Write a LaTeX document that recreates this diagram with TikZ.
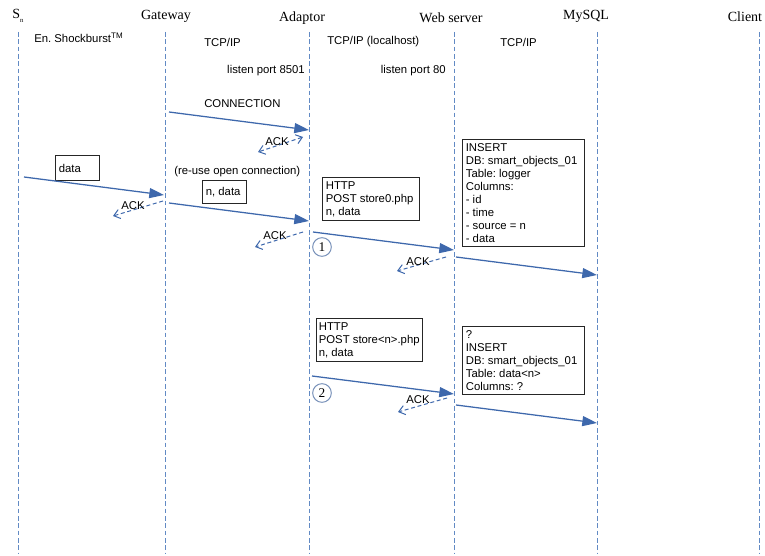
\documentclass[tikz,border=0pt]{standalone}
\usepackage{fontspec}
\setmainfont{Liberation Serif}
\setsansfont{Liberation Sans}
\usetikzlibrary{arrows.meta}
\frenchspacing
\definecolor{msgblue}{RGB}{62,104,172}
\definecolor{lifeblue}{RGB}{98,138,196}
\definecolor{ringblue}{RGB}{120,145,185}
\tikzset{
  msg/.style={draw=msgblue, line width=0.95pt, -{Triangle[length=11pt,width=7.5pt]}},
  ack/.style={draw=msgblue, line width=0.75pt, dash pattern=on 3pt off 2pt, -{Straight Barb[length=4.5pt,width=7pt]}},
  life/.style={draw=lifeblue, line width=0.75pt, dash pattern=on 3.5pt off 2pt},
  head/.style={font=\fontsize{10.5}{12}\selectfont, inner sep=0.75pt},
  lbl/.style={font=\sffamily\fontsize{8.5}{10}\selectfont, inner sep=0.75pt},
  msgbox/.style={draw=black!85, line width=0.75pt, anchor=north west, align=flush left,
    font=\sffamily\fontsize{8.5}{9.8}\selectfont, inner ysep=3pt, inner xsep=2.5pt},
  ring/.style={circle, draw=ringblue, line width=0.75pt, minimum size=14pt, inner sep=0pt,
    font=\fontsize{10}{12}\selectfont}
}
\begin{document}
\begin{tikzpicture}[x=0.75pt,y=-0.75pt]
\useasboundingbox (0,0) rectangle (765,556);

% lifelines
\foreach \name/\xx in {sn/18,gw/165,ad/309,ws/454,db/597,cl/759}{
  \coordinate (\name-top) at (\xx,32);
  \coordinate (\name-bot) at (\xx,554);
  \draw[life] (\name-top) -- (\name-bot);
}

% headings
\node[head] (hsn) at (18,16) {S\raisebox{-0.6ex}{\fontsize{5}{6}\selectfont n}};
\node[head] (hgw) at (166,16) {Gateway};
\node[head] (had) at (302,18) {Adaptor};
\node[head] (hws) at (451,18) {Web server};
\node[head] (hdb) at (586,16) {MySQL};
\node[head] (hcl) at (745,17) {Client};

% protocol labels
\node[lbl, anchor=west] (pshock) at (33,38) {En. Shockburst\textsuperscript{\fontsize{6}{7}\selectfont TM}};
\node[lbl, anchor=west] (ptcp) at (203,42) {TCP/IP};
\node[lbl, anchor=east] (port1) at (306,71) {listen port 8501};
\node[lbl, anchor=west] (plocal) at (326,42) {TCP/IP (localhost)};
\node[lbl, anchor=east] (port2) at (447,71) {listen port 80};
\node[lbl, anchor=west] (ptcp2) at (499,42) {TCP/IP};
\node[lbl, anchor=west] (lconn) at (203,104) {CONNECTION};
\node[lbl, anchor=west] (lreuse) at (173,172) {(re-use open connection)};

% message boxes
\node[msgbox, text width=28pt, minimum height=18.75pt] (bdata) at (55,155) {data};
\node[msgbox, text width=28pt, minimum height=17.25pt] (bndata) at (202,180) {n, data};
\node[msgbox, text width=67.75pt] (bhttp1) at (322,177) {HTTP\\POST store0.php\\n, data};
\node[msgbox, text width=86.5pt] (bsql1) at (462,139) {INSERT\\DB: smart\_objects\_01\\Table: logger\\Columns:\\- id\\- time\\- source = n\\- data};
\node[msgbox, inner xsep=1.75pt, text width=76pt] (bhttp2) at (316,318) {HTTP\\POST~store<n>.php\\n, data};
\node[msgbox, text width=86.5pt] (bsql2) at (462,326) {?\\INSERT\\DB: smart\_objects\_01\\Table: data<n>\\Columns: ?};

% numbered variants
\node[ring] (r1) at (322,247) {1};
\node[ring] (r2) at (322,393) {2};

% message end points
\coordinate (conn-a) at (169,112);  \coordinate (conn-b) at (309,130);
\coordinate (data-a) at (24,177);   \coordinate (data-b) at (164,195);
\coordinate (nd-a) at (169,203);    \coordinate (nd-b) at (309,221);
\coordinate (h1-a) at (313,232);    \coordinate (h1-b) at (454,250);
\coordinate (q1-a) at (456,257);    \coordinate (q1-b) at (597,275);
\coordinate (h2-a) at (312,376);    \coordinate (h2-b) at (454,394);
\coordinate (q2-a) at (456,405);    \coordinate (q2-b) at (597,423);

\draw[msg] (conn-a) -- (conn-b);
\draw[msg] (data-a) -- (data-b);
\draw[msg] (nd-a) -- (nd-b);
\draw[msg] (h1-a) -- (h1-b);
\draw[msg] (q1-a) -- (q1-b);
\draw[msg] (h2-a) -- (h2-b);
\draw[msg] (q2-a) -- (q2-b);

% acknowledgements
\coordinate (k1-a) at (303,137);  \coordinate (k1-b) at (258,152);
\coordinate (k2-a) at (163,201);  \coordinate (k2-b) at (113,216);
\coordinate (k3-a) at (303,232);  \coordinate (k3-b) at (255,247);
\coordinate (k4-a) at (446,257);  \coordinate (k4-b) at (397,271);
\coordinate (k5-a) at (447,398);  \coordinate (k5-b) at (398,412);

\draw[ack, {Straight Barb[length=4.5pt,width=7pt]}-{Straight Barb[length=4.5pt,width=7pt]}] (k1-a) -- (k1-b);
\draw[ack] (k2-a) -- (k2-b);
\draw[ack] (k3-a) -- (k3-b);
\draw[ack] (k4-a) -- (k4-b);
\draw[ack] (k5-a) -- (k5-b);

\node[lbl] (a1) at (277,142) {ACK};
\node[lbl] (a2) at (133,206) {ACK};
\node[lbl] (a3) at (275,236) {ACK};
\node[lbl] (a4) at (418,262) {ACK};
\node[lbl] (a5) at (418,400) {ACK};
\end{tikzpicture}
\end{document}
